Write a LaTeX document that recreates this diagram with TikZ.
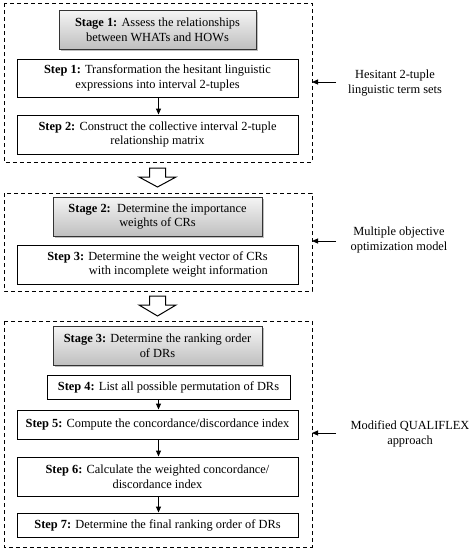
\documentclass[tikz,border=0pt]{standalone}
\usepackage{fontspec}
\setmainfont{Liberation Serif}
\usetikzlibrary{shadows,arrows.meta,calc}
\begin{document}
\begin{tikzpicture}[x=1pt,y=-1pt,
  every node/.style={font=\fontsize{12.4}{14.6}\selectfont, inner sep=0pt},
  stepbox/.style={draw=black, line width=1pt, fill=white, minimum width=281pt, align=center},
  stagebox/.style={draw=black!80, line width=0.8pt, top color=gray!8, bottom color=gray!50,
     minimum width=209pt, minimum height=39pt, align=center,
     drop shadow={shadow xshift=2pt, shadow yshift=-2pt, opacity=0.5}},
  dashbox/.style={draw=black, line width=1pt, dash pattern=on 4pt off 3pt},
  flow/.style={-{Triangle[length=6pt,width=5pt]}, line width=1pt},
  side/.style={-{Triangle[length=6pt,width=5pt]}, line width=1pt},
  hollow/.style={draw=black, line width=1pt, fill=white},
  sidelabel/.style={align=center}
]
\useasboundingbox (0,0) rectangle (472,550);
% dashed frames
\draw[dashbox] (4,3) rectangle (312,162);
\draw[dashbox] (4,193) rectangle (312,291);
\draw[dashbox] (4,321) rectangle (312,547);
\coordinate (d1) at (312,82);
\coordinate (d2) at (312,241);
\coordinate (d3) at (312,433);

% stage 1
\node[stagebox, minimum width=197pt] (st1) at (157.5,29.5) {\textbf{Stage 1:} Assess the relationships\\between WHATs and HOWs};
\node[stepbox, minimum height=38pt] (s1) at (157.5,78) {\textbf{Step 1:} Transformation the hesitant linguistic\\expressions into interval 2-tuples};
\node[stepbox, minimum height=39pt] (s2) at (157.5,134.5) {\textbf{Step 2:} Construct the collective interval 2-tuple\\relationship matrix};
\draw[flow] (s1.south -| 158.5,0) -- (s2.north -| 158.5,0);

% hollow arrow 1
\draw[hollow] (149.5,168) -- (165.5,168) -- (165.5,177) -- (176,177) -- (157.5,187) -- (139,177) -- (149.5,177) -- cycle;

% stage 2
\node[stagebox] (st2) at (157.5,216.5) {\textbf{Stage 2:}\ \ Determine the importance\\weights of CRs};
\node[stepbox, minimum height=39pt] (s3) at (157.5,264.5) {\begin{tabular}{@{}r@{}}\textbf{Step 3:} Determine the weight vector of CRs\\with incomplete weight information\end{tabular}};

% hollow arrow 2
\draw[hollow] (149.5,296) -- (165.5,296) -- (165.5,305) -- (176,305) -- (157.5,316) -- (139,305) -- (149.5,305) -- cycle;

% stage 3
\node[stagebox] (st3) at (157.5,345.5) {\textbf{Stage 3:} Determine the ranking order\\of DRs};
\node[stepbox, minimum width=243pt, minimum height=24pt] (s4) at (168.5,387) {\textbf{Step 4:} List all possible permutation of DRs};
\node[stepbox, minimum height=29pt] (s5) at (157.5,424.5) {\textbf{Step 5:} Compute the concordance/discordance index};
\node[stepbox, minimum height=39pt] (s6) at (157.5,476.5) {\textbf{Step 6:} Calculate the weighted concordance/\\discordance index};
\node[stepbox, minimum height=24pt] (s7) at (157.5,525) {\textbf{Step 7:} Determine the final ranking order of DRs};
\draw[flow] (s4.south -| 158.5,0) -- (s5.north -| 158.5,0);
\draw[flow] (s5.south -| 158.5,0) -- (s6.north -| 158.5,0);
\draw[flow] (s6.south -| 158.5,0) -- (s7.north -| 158.5,0);

% side labels
\node[sidelabel] (l1) at (395,83) {Hesitant 2-tuple\\linguistic term sets};
\node[sidelabel] (l2) at (399,240) {Multiple objective\\optimization model};
\node[sidelabel] (l3) at (410,434) {Modified QUALIFLEX\\approach};
\coordinate (a1) at (336,82);
\coordinate (a2) at (336,241);
\coordinate (a3) at (336,433);
\draw[side] (a1) -- (d1);
\draw[side] (a2) -- (d2);
\draw[side] (a3) -- (d3);
\end{tikzpicture}
\end{document}
